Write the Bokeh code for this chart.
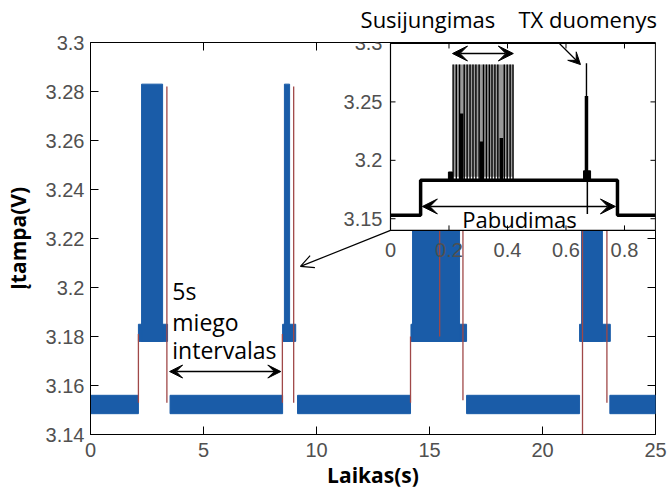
import math
from bokeh.plotting import figure
from bokeh.models import Range1d, FixedTicker, Label, Arrow, VeeHead, OpenHead, LinearAxis
from bokeh.embed import file_html
from bokeh.resources import INLINE
from bokeh.core.properties import value

# ---------------- data ----------------
x_ticks = [0, 5, 10, 15, 20, 25]
x_tick_labels = ["0", "5", "10", "15", "20", "25"]
y_ticks = [3.14, 3.16, 3.18, 3.2, 3.22, 3.24, 3.26, 3.28, 3.3]
y_tick_labels = ["3.14", "3.16", "3.18", "3.2", "3.22", "3.24", "3.26", "3.28", "3.3"]

# sleep (baseline) segments of the blue trace
sleep_start = [0.0, 3.52, 9.16, 16.64, 22.98]
sleep_end = [2.12, 8.50, 14.16, 21.64, 25.0]
sleep_low = [3.1485, 3.1485, 3.1485, 3.1485, 3.1485]
sleep_high = [3.156, 3.156, 3.156, 3.156, 3.156]

# wake plateau segments
wake_start = [2.12, 8.50, 14.18, 21.64]
wake_end = [3.41, 9.08, 16.64, 23.00]
wake_low = [3.178, 3.178, 3.178, 3.178]
wake_high = [3.185, 3.185, 3.185, 3.185]

# radio bursts
burst_start = [2.26, 8.58, 14.25, 21.73]
burst_end = [3.19, 8.81, 16.33, 22.65]
burst_high = [3.283, 3.283, 3.283, 3.283]

# thin red trace transitions
edge_t = [2.12, 3.38, 8.49, 8.99, 14.16, 15.45, 16.48, 21.77, 22.85]
edge_lo = [3.153, 3.153, 3.153, 3.153, 3.153, 3.180, 3.154, 3.140, 3.153]
edge_hi = [3.181, 3.282, 3.181, 3.282, 3.180, 3.283, 3.282, 3.283, 3.282]

# inset (zoom of one wake period)
inset_xlim = [0.0, 0.906]
inset_ylim = [3.14, 3.30]
inset_x_ticks = [0, 0.2, 0.4, 0.6, 0.8]
inset_x_tick_labels = ["0", "0.2", "0.4", "0.6", "0.8"]
inset_y_ticks = [3.15, 3.2, 3.25, 3.3]
inset_y_tick_labels = ["3.15", "3.2", "3.25", "3.3"]
inset_t = [0.0, 0.103, 0.103, 0.776, 0.776, 0.906]
inset_v = [3.153, 3.153, 3.183, 3.183, 3.153, 3.153]
conn_t = [0.214, 0.225, 0.236, 0.252, 0.262, 0.272, 0.282, 0.292, 0.303, 0.318,
          0.328, 0.338, 0.347, 0.357, 0.367, 0.389, 0.399, 0.409, 0.419]
conn_top = [3.282] * len(conn_t)
conn_band = [0.214, 0.419, 3.186, 3.282]
strong_t = [0.243, 0.311, 0.379, 0.670]
strong_top = [3.240, 3.216, 3.219, 3.255]
tx_t = [0.670]
tx_top = [3.283]
bump_start = [0.198, 0.660]
bump_end = [0.212, 0.684]
bump_top = [3.190, 3.191]
tx_line_t = [0.673]
tx_line_lo = [3.154]
tx_line_hi = [3.190]

# texts above the plot, with the time (s) at their centres
top_text_pos = [14.93, 22.0]
top_texts = ["Susijungimas", "TX duomenys"]

# ---------------- styling ----------------
BLUE = "#1a5ca8"
RED = "#a04848"
TICK_FONT = "Liberation Sans"
TEXT_FONT = "Open Sans"
TICK_COLOR = "#505050"

XMIN, XMAX = 0, 25
YMIN, YMAX = 3.14, 3.30
FW, FH = 565, 392

# inset frame placement in main-axis coordinates
ix0, ix1 = 13.274, 25.0
iy0, iy1 = 3.2233, 3.2996

sx = (inset_xlim[1] - inset_xlim[0]) / (ix1 - ix0)
sy = (inset_ylim[1] - inset_ylim[0]) / (iy1 - iy0)
ixr = Range1d(inset_xlim[0] + (XMIN - ix0) * sx, inset_xlim[1] + (XMAX - ix1) * sx)
iyr = Range1d(inset_ylim[0] + (YMIN - iy0) * sy, inset_ylim[1] + (YMAX - iy1) * sy)

p = figure(frame_width=FW, frame_height=FH, x_range=Range1d(XMIN, XMAX), y_range=Range1d(YMIN, YMAX),
           output_backend="svg", toolbar_location=None,
           min_border_left=90, min_border_right=13, min_border_top=41, min_border_bottom=57)
p.extra_x_ranges = {"ix": ixr}
p.extra_y_ranges = {"iy": iyr}
p.xgrid.visible = False
p.ygrid.visible = False
p.outline_line_color = "black"
p.outline_line_width = 1
p.background_fill_color = "white"
p.border_fill_color = "white"

for ax, ticks, labels, standoff in ((p.xaxis[0], x_ticks, x_tick_labels, 8),
                                    (p.yaxis[0], y_ticks, y_tick_labels, 6)):
    ax.ticker = FixedTicker(ticks=ticks)
    ax.major_label_overrides = {t: l for t, l in zip(ticks, labels)}
    ax.minor_tick_line_color = None
    ax.major_tick_in = 8
    ax.major_tick_out = 0
    ax.major_tick_line_color = "black"
    ax.axis_line_color = "black"
    ax.major_label_text_font = TICK_FONT
    ax.major_label_text_font_size = "20px"
    ax.major_label_text_color = TICK_COLOR
    ax.major_label_standoff = standoff
    ax.axis_label_text_font = TEXT_FONT
    ax.axis_label_text_font_size = "21px"
    ax.axis_label_text_font_style = "bold"
    ax.axis_label_text_color = "black"

p.xaxis[0].axis_label = "Laikas(s)"
p.xaxis[0].axis_label_standoff = 1
p.yaxis[0].axis_label = "Įtampa(V)"
p.yaxis[0].axis_label_standoff = 11

# texts above the frame, carried by a bare axis
top_axis = LinearAxis(ticker=FixedTicker(ticks=top_text_pos),
                      major_label_overrides={t: l for t, l in zip(top_text_pos, top_texts)},
                      axis_line_color=None, major_tick_line_color=None, minor_tick_line_color=None,
                      major_label_text_font=TEXT_FONT, major_label_text_font_size="22px",
                      major_label_text_color="black", major_label_standoff=3)
p.add_layout(top_axis, "above")

# main top / right tick marks (box style)
tlx = 8 * (XMAX - XMIN) / FW
tly = 8 * (YMAX - YMIN) / FH
p.segment(x0=x_ticks[1:-1], y0=[YMAX] * 4, x1=x_ticks[1:-1], y1=[YMAX - tly] * 4,
          line_color="black", line_width=1)
p.segment(x0=[XMAX] * 7, y0=y_ticks[1:-1], x1=[XMAX - tlx] * 7, y1=y_ticks[1:-1],
          line_color="black", line_width=1)

# blue measurement trace
p.quad(left=sleep_start, right=sleep_end, bottom=sleep_low, top=sleep_high,
       fill_color=BLUE, line_color=BLUE, line_width=1)
p.quad(left=wake_start, right=wake_end, bottom=wake_low, top=wake_high,
       fill_color=BLUE, line_color=BLUE, line_width=1)
p.quad(left=burst_start, right=burst_end, bottom=wake_low, top=burst_high,
       fill_color=BLUE, line_color=BLUE, line_width=1)
# thin red trace
p.segment(x0=edge_t, y0=edge_lo, x1=edge_t, y1=edge_hi, line_color=RED, line_width=1.3)

# ---------------- inset ----------------
p.quad(left=[inset_xlim[0]], right=[inset_xlim[1]], bottom=[inset_ylim[0]], top=[inset_ylim[1]],
       fill_color="white", line_color="black", line_width=1.2,
       x_range_name="ix", y_range_name="iy")
p.quad(left=[conn_band[0]], right=[conn_band[1]], bottom=[conn_band[2]], top=[conn_band[3]],
       fill_color="#9a9a9a", line_color=None, x_range_name="ix", y_range_name="iy")
p.segment(x0=conn_t, y0=[3.183] * len(conn_t), x1=conn_t, y1=conn_top,
          line_color="black", line_width=1.4, x_range_name="ix", y_range_name="iy")
p.segment(x0=tx_t, y0=[3.183], x1=tx_t, y1=tx_top,
          line_color="black", line_width=1.4, x_range_name="ix", y_range_name="iy")
p.segment(x0=strong_t, y0=[3.183] * len(strong_t), x1=strong_t, y1=strong_top,
          line_color="black", line_width=3.5, x_range_name="ix", y_range_name="iy")
p.quad(left=bump_start, right=bump_end, bottom=[3.183] * 2, top=bump_top,
       fill_color="black", line_color="black", x_range_name="ix", y_range_name="iy")
p.segment(x0=tx_line_t, y0=tx_line_lo, x1=tx_line_t, y1=tx_line_hi,
          line_color="black", line_width=1.5, x_range_name="ix", y_range_name="iy")
p.line(inset_t, inset_v, line_color="black", line_width=3.5,
       x_range_name="ix", y_range_name="iy")

# inset ticks
itx = 5 * (inset_xlim[1] - inset_xlim[0]) / 265
ity = 5 * (inset_ylim[1] - inset_ylim[0]) / 187
n = len(inset_x_ticks)
p.segment(x0=inset_x_ticks, y0=[inset_ylim[0]] * n, x1=inset_x_ticks, y1=[inset_ylim[0] + ity] * n,
          line_color="black", x_range_name="ix", y_range_name="iy")
p.segment(x0=inset_x_ticks, y0=[inset_ylim[1]] * n, x1=inset_x_ticks, y1=[inset_ylim[1] - ity] * n,
          line_color="black", x_range_name="ix", y_range_name="iy")
m = len(inset_y_ticks)
p.segment(x0=[inset_xlim[0]] * m, y0=inset_y_ticks, x1=[inset_xlim[0] + itx] * m, y1=inset_y_ticks,
          line_color="black", x_range_name="ix", y_range_name="iy")
p.segment(x0=[inset_xlim[1]] * m, y0=inset_y_ticks, x1=[inset_xlim[1] - itx] * m, y1=inset_y_ticks,
          line_color="black", x_range_name="ix", y_range_name="iy")
p.text(x=inset_x_ticks, y=[inset_ylim[0] - 20 * (inset_ylim[1] - inset_ylim[0]) / 187] * n,
       text=inset_x_tick_labels, text_align="center", text_baseline="middle",
       text_font=value(TICK_FONT), text_font_size="20px", text_color=TICK_COLOR,
       x_range_name="ix", y_range_name="iy")
p.text(x=[inset_xlim[0] - 8 * (inset_xlim[1] - inset_xlim[0]) / 265] * m, y=inset_y_ticks,
       text=inset_y_tick_labels, text_align="right", text_baseline="middle",
       text_font=value(TICK_FONT), text_font_size="20px", text_color=TICK_COLOR,
       x_range_name="ix", y_range_name="iy")

# ---------------- annotations ----------------
def vee(size=13):
    return VeeHead(size=size, fill_color="black", line_color="black", line_width=1)

# 5 s sleep interval
p.add_layout(Arrow(start=vee(), end=vee(), x_start=3.50, y_start=3.1657, x_end=8.42, y_end=3.1657,
                   line_color="black", line_width=1.6))
for txt, yb in (("5s", 3.1984), ("miego", 3.1861), ("intervalas", 3.1743)):
    p.add_layout(Label(x=3.62, y=yb, text=txt, text_font=TEXT_FONT, text_font_size="23px",
                       text_color="black", text_baseline="alphabetic", text_align="left"))

# connection from inset to main trace
p.add_layout(Arrow(end=OpenHead(size=13, line_color="black", line_width=1.2),
                   x_start=ix0, y_start=iy0, x_end=9.29, y_end=3.2086,
                   line_color="black", line_width=1.2))

# inset annotations
p.add_layout(Arrow(start=vee(15), end=vee(15), x_start=0.212, y_start=3.2914, x_end=0.420, y_end=3.2914,
                   line_color="black", line_width=1.5, x_range_name="ix", y_range_name="iy"))
p.add_layout(Arrow(start=vee(15), end=vee(15), x_start=0.109, y_start=3.1605, x_end=0.769, y_end=3.1605,
                   line_color="black", line_width=1.5, x_range_name="ix", y_range_name="iy"))
p.add_layout(Label(x=0.441, y=3.1494, text="Pabudimas", text_font=TEXT_FONT, text_font_size="22px",
                   text_color="black", text_align="center", text_baseline="alphabetic",
                   x_range_name="ix", y_range_name="iy"))
p.add_layout(Arrow(end=vee(12), x_start=20.66, y_start=3.3004, x_end=21.68, y_end=3.2910,
                   line_color="black", line_width=1.3))

open("out.html", "w").write(file_html(p, INLINE))
